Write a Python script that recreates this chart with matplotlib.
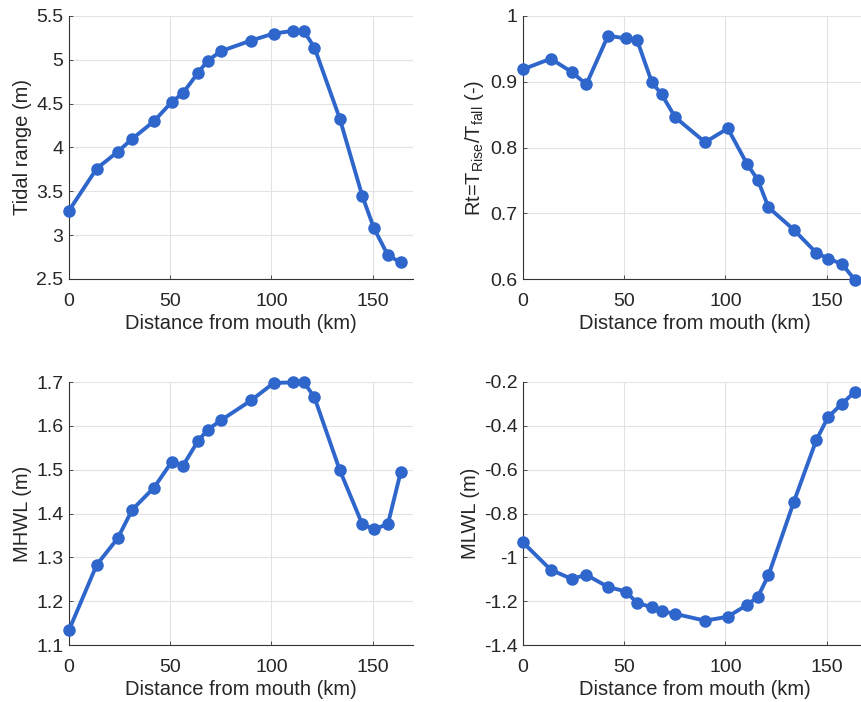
import numpy as np
import matplotlib
matplotlib.use("Agg")
import matplotlib.pyplot as plt

plt.rcParams['font.family'] = ['Liberation Sans', 'DejaVu Sans']
plt.rcParams['mathtext.fontset'] = 'custom'
plt.rcParams['mathtext.rm'] = 'Liberation Sans'
plt.rcParams['mathtext.it'] = 'Liberation Sans'

# distance from mouth (km)
dist = [0, 13.7, 24, 31.3, 42, 50.8, 56.3, 63.7, 68.5, 75.2,
        90, 101.2, 110.7, 116, 121.3, 133.8, 144.9, 150.7, 157.6, 163.9]

tidal_range = [3.28, 3.76, 3.95, 4.10, 4.30, 4.52, 4.62, 4.85, 4.99, 5.10,
               5.22, 5.30, 5.33, 5.33, 5.14, 4.33, 3.45, 3.08, 2.77, 2.69]

rt = [0.919, 0.935, 0.915, 0.896, 0.970, 0.966, 0.964, 0.899, 0.881, 0.846,
      0.808, 0.829, 0.775, 0.751, 0.709, 0.675, 0.640, 0.631, 0.623, 0.599]

mhwl = [1.134, 1.283, 1.343, 1.409, 1.459, 1.518, 1.509, 1.565, 1.591, 1.613,
        1.658, 1.698, 1.699, 1.700, 1.665, 1.499, 1.376, 1.364, 1.376, 1.494]

mlwl = [-0.932, -1.057, -1.098, -1.080, -1.135, -1.156, -1.207, -1.228, -1.245, -1.258,
        -1.289, -1.271, -1.217, -1.181, -1.082, -0.748, -0.466, -0.361, -0.299, -0.246]

BLUE = '#2f66cc'
W, H = 861, 702

fig = plt.figure(figsize=(W / 100, H / 100), dpi=100)

def make_ax(x0, x1, ytop, ybot):
    return fig.add_axes([x0 / W, 1 - ybot / H, (x1 - x0) / W, (ybot - ytop) / H])

panels = [
    (make_ax(69, 413, 16, 279), tidal_range, (2.5, 5.5), np.arange(2.5, 5.51, 0.5),
     ['2.5', '3', '3.5', '4', '4.5', '5', '5.5'], 'Tidal range (m)'),
    (make_ax(523, 867, 16, 279), rt, (0.6, 1.0), np.arange(0.6, 1.01, 0.1),
     ['0.6', '0.7', '0.8', '0.9', '1'], r'Rt=T$_{\rm Rise}$/T$_{\rm fall}$ (-)'),
    (make_ax(69, 413, 382, 645), mhwl, (1.1, 1.7), np.arange(1.1, 1.71, 0.1),
     ['1.1', '1.2', '1.3', '1.4', '1.5', '1.6', '1.7'], 'MHWL (m)'),
    (make_ax(523, 867, 382, 645), mlwl, (-1.4, -0.2), np.arange(-1.4, -0.19, 0.2),
     ['-1.4', '-1.2', '-1', '-0.8', '-0.6', '-0.4', '-0.2'], 'MLWL (m)'),
]

for ax, vals, ylim, yt, ytl, ylab in panels:
    ax.plot(dist, vals, '-o', color=BLUE, lw=2.8, ms=8, clip_on=False, zorder=3)
    ax.set_xlim(0, 170)
    ax.set_ylim(*ylim)
    ax.set_xticks([0, 50, 100, 150])
    ax.set_yticks(yt)
    ax.set_yticklabels(ytl)
    ax.grid(True, color='#e3e3e3', lw=0.8)
    ax.set_axisbelow(True)
    for s in ['top', 'right']:
        ax.spines[s].set_visible(False)
    for s in ['left', 'bottom']:
        ax.spines[s].set_color('#333333')
        ax.spines[s].set_linewidth(0.8)
    ax.tick_params(direction='in', length=3, width=0.6, colors='#333333',
                   labelsize=14, labelcolor='#262626')
    ax.tick_params(axis='x', pad=10)
    ax.tick_params(axis='y', pad=4)
    ax.set_xlabel('Distance from mouth (km)', fontsize=14.5, color='#262626', labelpad=3)
    ax.set_ylabel(ylab, fontsize=14.5, color='#262626', labelpad=3)

fig.savefig('out.png', dpi=100)
